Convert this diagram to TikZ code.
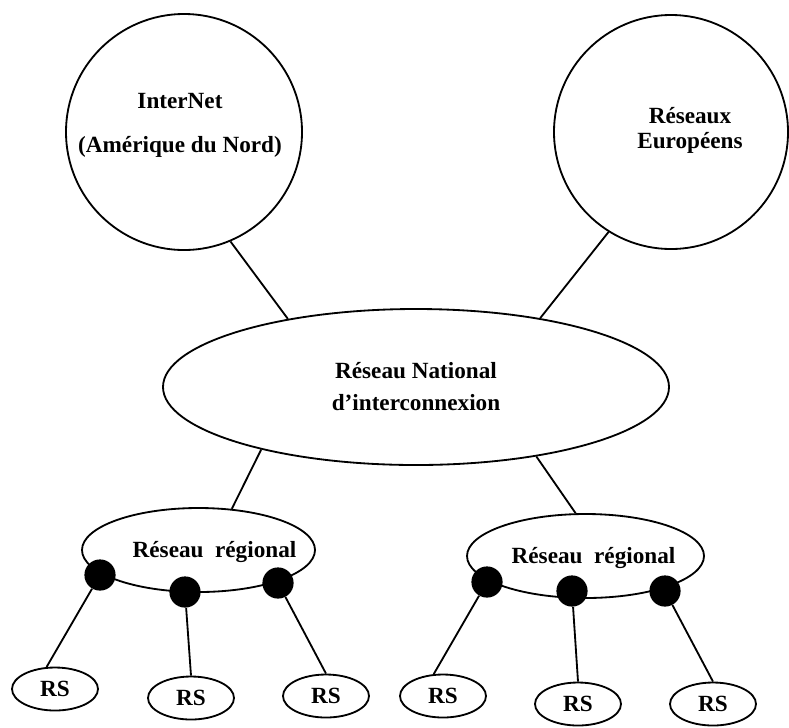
\documentclass[tikz,border=0pt]{standalone}
\usepackage{fontspec}
\setmainfont{Liberation Serif}
\usepackage{tikz}
\usetikzlibrary{shapes.geometric}

\begin{document}
\begin{tikzpicture}[
        font=\bfseries\fontsize{16.5}{20}\selectfont,
        bigcirc/.style={
            circle,
            draw,
            line width=1.3pt,
            inner sep=0pt
        },
        txt/.style={
            align=center,
            inner sep=0pt
        },
        net/.style={
            ellipse,
            draw,
            line width=1.3pt,
            align=center,
            inner sep=0pt
        },
        rsbox/.style={
            ellipse,
            draw,
            line width=1.3pt,
            inner sep=0pt,
            minimum width=2.15cm,
            minimum height=1.075cm
        },
        dot/.style={
            circle,
            fill=black,
            inner sep=0pt,
            minimum size=0.78cm
        },
        link/.style={line width=1.3pt}
    ]
        \useasboundingbox (0,0) rectangle (19.725,-18.175);

        \node[bigcirc, minimum size=5.9cm] (inet) at (4.6,-3.3) {};
        \node[txt] (inettxt) at (4.5,-3.125) {InterNet\\[4mm](Amérique du Nord)};
        \node[bigcirc, minimum size=5.85cm] (eur) at (16.775,-3.3) {};
        \node[txt] (eurtxt) at (17.25,-3.26) {Réseaux\\[-2pt]Européens};

        \node[net, minimum width=12.65cm, minimum height=3.9cm] (nat) at (10.4,-9.675)
            {Réseau National\\[2.8pt]d'interconnexion};

        \node[net, minimum width=5.825cm, minimum height=2.1cm] (reg1) at (4.9625,-13.75) {};
        \node[txt] (reg1txt) at (5.3625,-13.8) {Réseau\ \ régional};
        \node[net, minimum width=5.925cm, minimum height=2.1cm] (reg2) at (14.6375,-13.9) {};
        \node[txt] (reg2txt) at (14.8375,-13.95) {Réseau\ \ régional};

        \node[dot] (d1) at (2.5,-14.375) {};
        \node[dot] (d2) at (4.625,-14.8) {};
        \node[dot] (d3) at (6.95,-14.575) {};
        \node[dot] (d4) at (12.175,-14.55) {};
        \node[dot] (d5) at (14.3,-14.775) {};
        \node[dot] (d6) at (16.625,-14.775) {};

        \node[rsbox] (rs1) at (1.375,-17.225) {RS};
        \node[rsbox] (rs2) at (4.775,-17.45) {RS};
        \node[rsbox] (rs3) at (8.15,-17.4) {RS};
        \node[rsbox] (rs4) at (11.075,-17.4) {RS};
        \node[rsbox] (rs5) at (14.45,-17.6) {RS};
        \node[rsbox] (rs6) at (17.825,-17.6) {RS};

        \draw[link] (inet.-67.5) -- (nat.152);
        \draw[link] (eur.-122) -- (nat.29);
        \draw[link] (nat.-158) -- (reg1.51);
        \draw[link] (nat.-30) -- (reg2.103);
        \draw[link] (d1) -- (rs1.111);
        \draw[link] (d2) -- (rs2.north);
        \draw[link] (d3) -- (rs3.north);
        \draw[link] (d4) -- (rs4.113);
        \draw[link] (d5) -- (rs5.north);
        \draw[link] (d6) -- (rs6.north);
    \end{tikzpicture}
\end{document}
